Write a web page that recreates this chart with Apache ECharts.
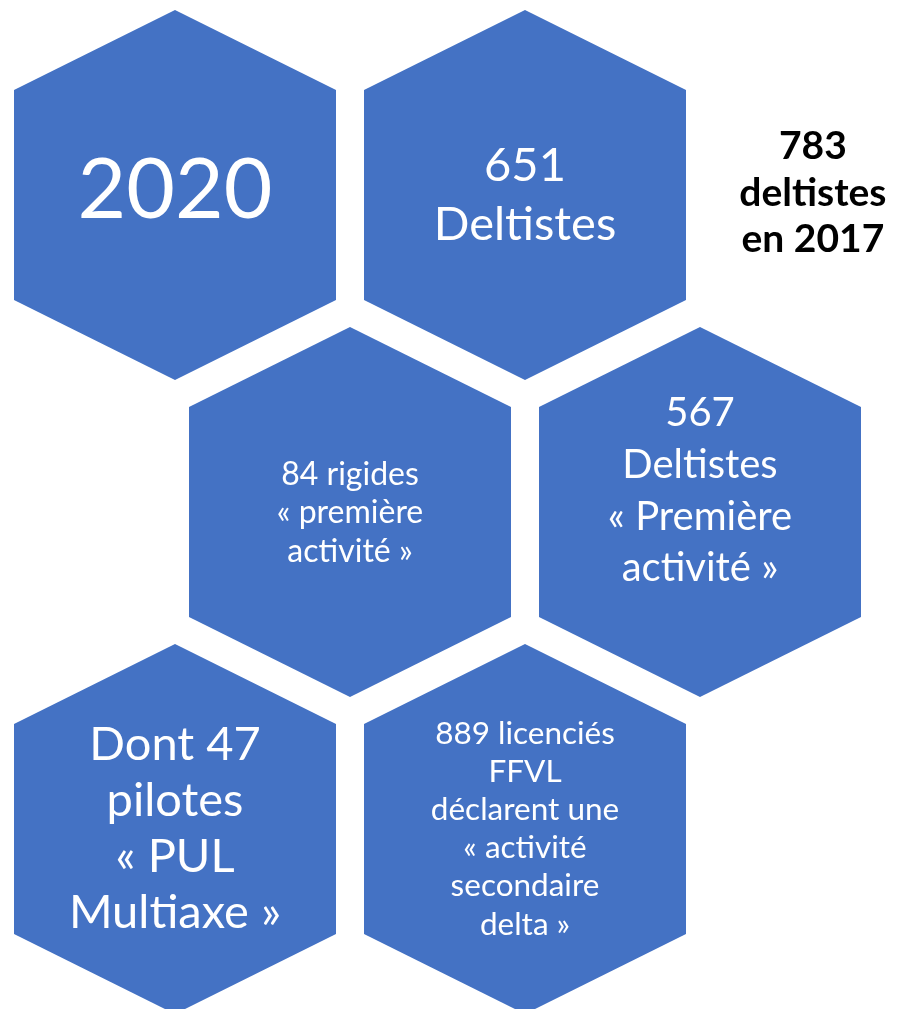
<!DOCTYPE html>
<html><head><meta charset="utf-8">
<script src="https://cdn.jsdelivr.net/npm/echarts@6/dist/echarts.min.js"></script>
<style>html,body{margin:0;padding:0;background:#fff}#c{width:897px;height:1009px}</style>
</head><body><div id="c"></div>
<script>
// ---- data ----
const hexLabels = [
  '2020',
  '651\nDeltistes',
  '84 rigides\n« première\nactivité »',
  '567\nDeltistes\n« Première\nactivité »',
  'Dont 47\npilotes\n« PUL\nMultiaxe »',
  '889 licenciés\nFFVL\ndéclarent une\n« activité\nsecondaire\ndelta »'
];
const hexCol = [1, 3, 2, 4, 1, 3];   // half-column position in the honeycomb
const hexRow = [0, 0, 1, 1, 2, 2];   // row in the honeycomb
const noteText = '783\ndeltistes\nen 2017';
const noteCol = [4.645];
const noteRow = [-0.005];

// ---- styles ----
const hexColor = '#4472C4';
const hexFontSize = [84, 47, 32, 40, 47, 31.5];
const hexLineHeight = [100, 59, 38.5, 51.7, 56, 38.2];
const hexTextDy = [-4, 0, 1, -21, 0, 0];
const HALF_W = 0.92, VERT = 0.5836, SHOULDER = 0.3312;

const chart = echarts.init(document.getElementById('c'), null, {renderer: 'canvas'});
chart.setOption({
  animation: false,
  backgroundColor: '#ffffff',
  grid: {left: 0, right: 0, top: 0, bottom: 0},
  xAxis: {type: 'value', min: 0, max: 897 / 175, show: false},
  yAxis: {type: 'value', min: -195 / 317, max: 814 / 317, inverse: true, show: false},
  series: [
    {
      type: 'custom',
      clip: false,
      data: hexCol.map((c, i) => [c, hexRow[i]]),
      renderItem: function (params, api) {
        const c = api.coord([api.value(0), api.value(1)]);
        const s = api.size([1, 1]);
        const hw = HALF_W * s[0], vh = VERT * s[1], sh = SHOULDER * s[1];
        const i = params.dataIndex;
        return {
          type: 'group',
          children: [
            {
              type: 'polygon',
              shape: {points: [
                [c[0], c[1] - vh], [c[0] + hw, c[1] - sh], [c[0] + hw, c[1] + sh],
                [c[0], c[1] + vh], [c[0] - hw, c[1] + sh], [c[0] - hw, c[1] - sh]
              ]},
              style: {fill: hexColor}
            },
            {
              type: 'text',
              x: c[0],
              y: c[1] + hexTextDy[i],
              style: {
                text: hexLabels[i],
                fill: '#ffffff',
                fontSize: hexFontSize[i],
                fontFamily: 'Lato',
                lineHeight: hexLineHeight[i],
                align: 'center',
                verticalAlign: 'middle'
              }
            }
          ]
        };
      }
    },
    {
      type: 'custom',
      clip: false,
      data: noteCol.map((c, i) => [c, noteRow[i]]),
      renderItem: function (params, api) {
        const c = api.coord([api.value(0), api.value(1)]);
        return {
          type: 'text',
          x: c[0],
          y: c[1],
          style: {
            text: noteText,
            fill: '#000000',
            fontSize: 39,
            fontWeight: 'bold',
            fontFamily: 'Lato',
            lineHeight: 46.5,
            align: 'center',
            verticalAlign: 'middle'
          }
        };
      }
    }
  ]
});
</script></body></html>
